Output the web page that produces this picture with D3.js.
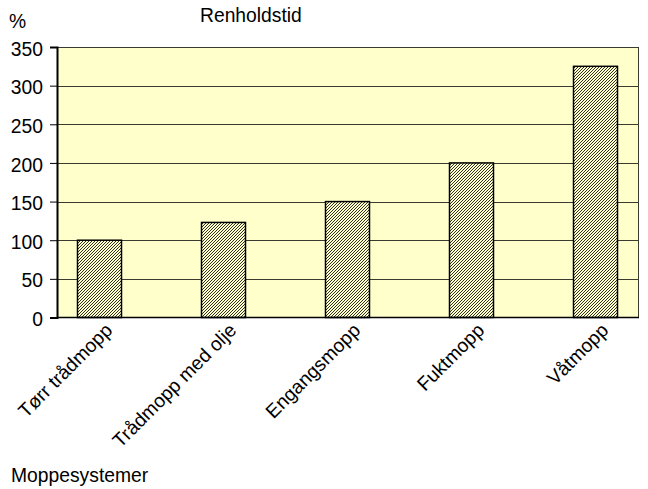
<!DOCTYPE html>
<html><head><meta charset="utf-8">
<script src="https://cdn.jsdelivr.net/npm/d3@7"></script>
<style>
html,body{margin:0;padding:0;background:#fff;}
svg{display:block;font-family:Arial,"Liberation Sans",sans-serif;}
</style></head>
<body><svg id="chart" width="648" height="489"></svg>
<script>
const categories = ["Tørr trådmopp","Trådmopp med olje","Engangsmopp","Fuktmopp","Våtmopp"];
const values = [100, 123, 150, 200, 325];
const yTicks = [0,50,100,150,200,250,300,350];
const title = "Renholdstid";
const yUnit = "%";
const xTitle = "Moppesystemer";

const FS = 19.3;
const svg = d3.select("#chart");
const plot = {left:57, right:638, top:47, bottom:317.5};
const y = d3.scaleLinear().domain([0,350]).range([plot.bottom, plot.top]);
const x = d3.scalePoint().domain(categories).range([99.5, 595.5]);
const barW = 44;

const defs = svg.append("defs");
const pat = defs.append("pattern").attr("id","hatch").attr("patternUnits","userSpaceOnUse")
  .attr("width",3).attr("height",3);
pat.append("rect").attr("width",3).attr("height",3).attr("fill","#ffffcc");
pat.append("path").attr("d","M-1,1 l2,-2 M0,3 l3,-3 M2,4 l2,-2")
  .attr("stroke","#1a1a1a").attr("stroke-width",0.9).attr("shape-rendering","auto");

// plot background
svg.append("rect").attr("x",plot.left).attr("y",plot.top)
  .attr("width",plot.right-plot.left).attr("height",plot.bottom-plot.top)
  .attr("fill","#ffffcc");

// gridlines
svg.append("g").selectAll("line").data(yTicks.filter(d=>d>0)).join("line")
  .attr("x1",plot.left).attr("x2",plot.right)
  .attr("y1",d=>Math.round(y(d))+0.5).attr("y2",d=>Math.round(y(d))+0.5)
  .attr("stroke","#3a3a30").attr("stroke-width",1);
// right border
svg.append("line").attr("x1",plot.right+0.5).attr("x2",plot.right+0.5)
  .attr("y1",plot.top).attr("y2",plot.bottom).attr("stroke","#3a3a30").attr("stroke-width",1);

// bars
svg.append("g").selectAll("rect").data(values).join("rect")
  .attr("x",(d,i)=>x(categories[i])-barW/2)
  .attr("y",d=>y(d))
  .attr("width",barW)
  .attr("height",d=>y(0)-y(d))
  .attr("fill","url(#hatch)")
  .attr("stroke","#000").attr("stroke-width",1.5);

// y axis
const yAxis = d3.axisLeft(y).tickValues(yTicks).tickSize(7).tickPadding(7).tickFormat(d3.format("d"));
const gy = svg.append("g").attr("transform",`translate(${plot.left},0)`).call(yAxis);
gy.select(".domain").attr("stroke","#000").attr("stroke-width",2);
gy.selectAll(".tick line").attr("stroke","#000").attr("stroke-width",1);
gy.selectAll(".tick text").attr("font-size",FS).attr("fill","#000")
  .attr("font-family","Arial, 'Liberation Sans', sans-serif").attr("dy","0.42em");

// x axis baseline
svg.append("line").attr("x1",plot.left).attr("x2",plot.right+1)
  .attr("y1",plot.bottom).attr("y2",plot.bottom).attr("stroke","#000").attr("stroke-width",1.5);

// x labels
svg.append("g").selectAll("text").data(categories).join("text")
  .attr("transform",d=>`translate(${x(d)+14},${plot.bottom+14}) rotate(-45)`)
  .attr("text-anchor","end").attr("font-size",FS).attr("fill","#000")
  .text(d=>d);

// titles
svg.append("text").attr("x",200).attr("y",21.5).attr("font-size",FS).attr("fill","#000").text(title);
svg.append("text").attr("x",9).attr("y",28).attr("font-size",FS).attr("fill","#000").text(yUnit);
svg.append("text").attr("x",11).attr("y",482).attr("font-size",FS).attr("fill","#000").text(xTitle);
</script></body></html>
